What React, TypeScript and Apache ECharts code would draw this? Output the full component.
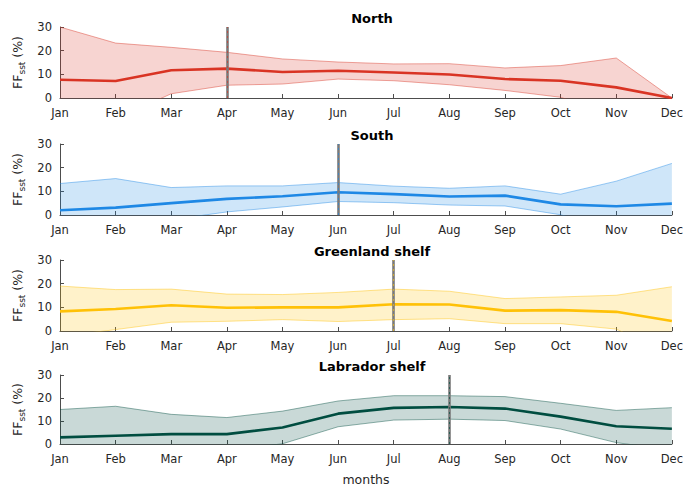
import React, { useEffect, useRef } from "react";
import * as echarts from "echarts";

const months = ["Jan", "Feb", "Mar", "Apr", "May", "Jun", "Jul", "Aug", "Sep", "Oct", "Nov", "Dec"];
const yTicks = [0, 10, 20, 30];

const panelTitles = ["North", "South", "Greenland shelf", "Labrador shelf"];

const northMean = [7.7, 7.2, 11.7, 12.4, 11.0, 11.5, 10.8, 9.9, 8.0, 7.3, 4.5, 0];
const northUpper = [30, 23.2, 21.4, 19.3, 16.5, 15.2, 14.4, 14.5, 12.7, 13.7, 16.9, 0];
const northLower = [-14.6, -8.8, 1.8, 5.4, 5.9, 8.0, 7.3, 5.6, 3.2, 0.3, -7.9, 0];

const southMean = [2.0, 3.1, 5.0, 6.8, 7.9, 9.6, 8.8, 7.8, 8.2, 4.5, 3.7, 4.8];
const southUpper = [13.3, 15.4, 11.6, 12.3, 12.3, 13.7, 12.2, 11.3, 12.3, 8.8, 14.3, 21.8];
const southLower = [-9.3, -9.2, -2.0, 1.3, 3.4, 5.7, 5.2, 4.2, 3.8, 0.1, -6.9, -12.2];

const greenMean = [8.3, 9.3, 10.9, 9.8, 10.0, 10.0, 11.3, 11.2, 8.6, 8.8, 8.1, 4.2];
const greenUpper = [19.0, 17.5, 17.7, 15.6, 15.4, 16.3, 17.7, 16.8, 13.7, 14.4, 15.1, 18.7];
const greenLower = [-2.4, 0.6, 3.7, 4.1, 4.8, 4.0, 4.8, 5.2, 3.1, 3.1, 0.8, -10.3];

const labMean = [2.9, 3.6, 4.3, 4.3, 7.2, 13.2, 15.7, 16.1, 15.4, 11.9, 7.7, 6.6];
const labUpper = [15.0, 16.4, 12.9, 11.5, 14.3, 18.7, 21.0, 21.0, 20.6, 17.7, 14.6, 15.8];
const labLower = [-9.2, -9.2, -4.3, -2.9, 0.1, 7.5, 10.4, 10.8, 10.2, 6.5, 0.6, -2.6];

const peakMonths = ["Apr", "Jun", "Jul", "Aug"];

const panels = [
  { mean: northMean, upper: northUpper, lower: northLower, rgb: [217, 52, 36] },
  { mean: southMean, upper: southUpper, lower: southLower, rgb: [30, 136, 229] },
  { mean: greenMean, upper: greenUpper, lower: greenLower, rgb: [255, 193, 7] },
  { mean: labMean, upper: labUpper, lower: labLower, rgb: [0, 77, 64] },
];

const FONT = "DejaVu Sans";
const gridTops = [27, 144, 260, 375];
const gridH = 71;

function rgba(c: number[], a: number) {
  return `rgba(${c[0]},${c[1]},${c[2]},${a})`;
}

export default function App() {
  const ref = useRef<HTMLDivElement>(null);
  useEffect(() => {
    if (!ref.current) return;
    const chart = echarts.init(ref.current, undefined, { renderer: "svg" });
    const grids: any[] = [];
    const xAxes: any[] = [];
    const yAxes: any[] = [];
    const titles: any[] = [];
    const series: any[] = [];
    panels.forEach((p, i) => {
      grids.push({ left: 60, right: 12, top: gridTops[i], height: gridH });
      titles.push({
        text: panelTitles[i],
        left: 367,
        top: gridTops[i] - 20,
        textAlign: "center",
        textStyle: { fontFamily: FONT, fontSize: 13, fontWeight: "bold", color: "#000" },
      });
      xAxes.push({
        type: "category",
        gridIndex: i,
        data: months,
        boundaryGap: false,
        axisLine: { lineStyle: { color: "#4d4d4d", width: 1 } },
        axisTick: { inside: true, length: 4, lineStyle: { color: "#4d4d4d" } },
        axisLabel: { fontFamily: FONT, fontSize: 11.5, color: "#262626", margin: 9, interval: 0 },
        splitLine: { show: false },
        name: i === 3 ? "months" : "",
        nameLocation: "middle",
        nameGap: 29,
        nameTextStyle: { fontFamily: FONT, fontSize: 12.5, color: "#262626" },
      });
      yAxes.push({
        type: "value",
        gridIndex: i,
        min: yTicks[0],
        max: yTicks[yTicks.length - 1],
        interval: 10,
        axisLine: { show: true, lineStyle: { color: "#4d4d4d", width: 1 } },
        axisTick: { show: true, inside: true, length: 4, lineStyle: { color: "#4d4d4d" } },
        axisLabel: { fontFamily: FONT, fontSize: 11.5, color: "#262626", margin: 8 },
        splitLine: { show: false },
        name: "{a|FF}{s|sst}{a| (%)}",
        nameLocation: "middle",
        nameRotate: 90,
        nameGap: 32,
        nameTextStyle: {
          rich: {
            a: { fontFamily: FONT, fontSize: 12.5, color: "#262626", lineHeight: 18, verticalAlign: "middle" },
            s: { fontFamily: FONT, fontSize: 9, color: "#262626", lineHeight: 18, verticalAlign: "bottom" },
          },
        },
      });
      const stackId = "band" + i;
      series.push({
        type: "line",
        xAxisIndex: i,
        yAxisIndex: i,
        data: p.lower,
        stack: stackId,
        stackStrategy: "all",
        symbol: "none",
        lineStyle: { color: rgba(p.rgb, 0.55), width: 0.8 },
        z: 2,
      });
      series.push({
        type: "line",
        xAxisIndex: i,
        yAxisIndex: i,
        data: p.upper.map((u, k) => u - p.lower[k]),
        stack: stackId,
        stackStrategy: "all",
        symbol: "none",
        lineStyle: { color: rgba(p.rgb, 0.55), width: 0.8 },
        areaStyle: { color: rgba(p.rgb, 0.21), opacity: 1 },
        z: 2,
        markLine: {
          silent: true,
          symbol: "none",
          label: { show: false },
          lineStyle: { color: "#7a7a7a", width: 2.6, type: "solid" },
          data: [{ xAxis: peakMonths[i] }],
        },
      });
      series.push({
        type: "line",
        xAxisIndex: i,
        yAxisIndex: i,
        data: p.mean,
        symbol: "none",
        lineStyle: { color: rgba(p.rgb, 1), width: 2.6 },
        z: 4,
        markLine: {
          silent: true,
          symbol: "none",
          label: { show: false },
          lineStyle: { color: rgba(p.rgb, 0.9), width: 0.7, type: [2, 3] },
          data: [{ xAxis: peakMonths[i] }],
        },
      });
    });
    chart.setOption({
      animation: false,
      backgroundColor: "#ffffff",
      title: titles,
      grid: grids,
      xAxis: xAxes,
      yAxis: yAxes,
      series,
    });
    return () => chart.dispose();
  }, []);
  return (
    <div
      ref={ref}
      style={{ position: "fixed", left: 0, top: 0, width: 686, height: 487 }}
    />
  );
}
